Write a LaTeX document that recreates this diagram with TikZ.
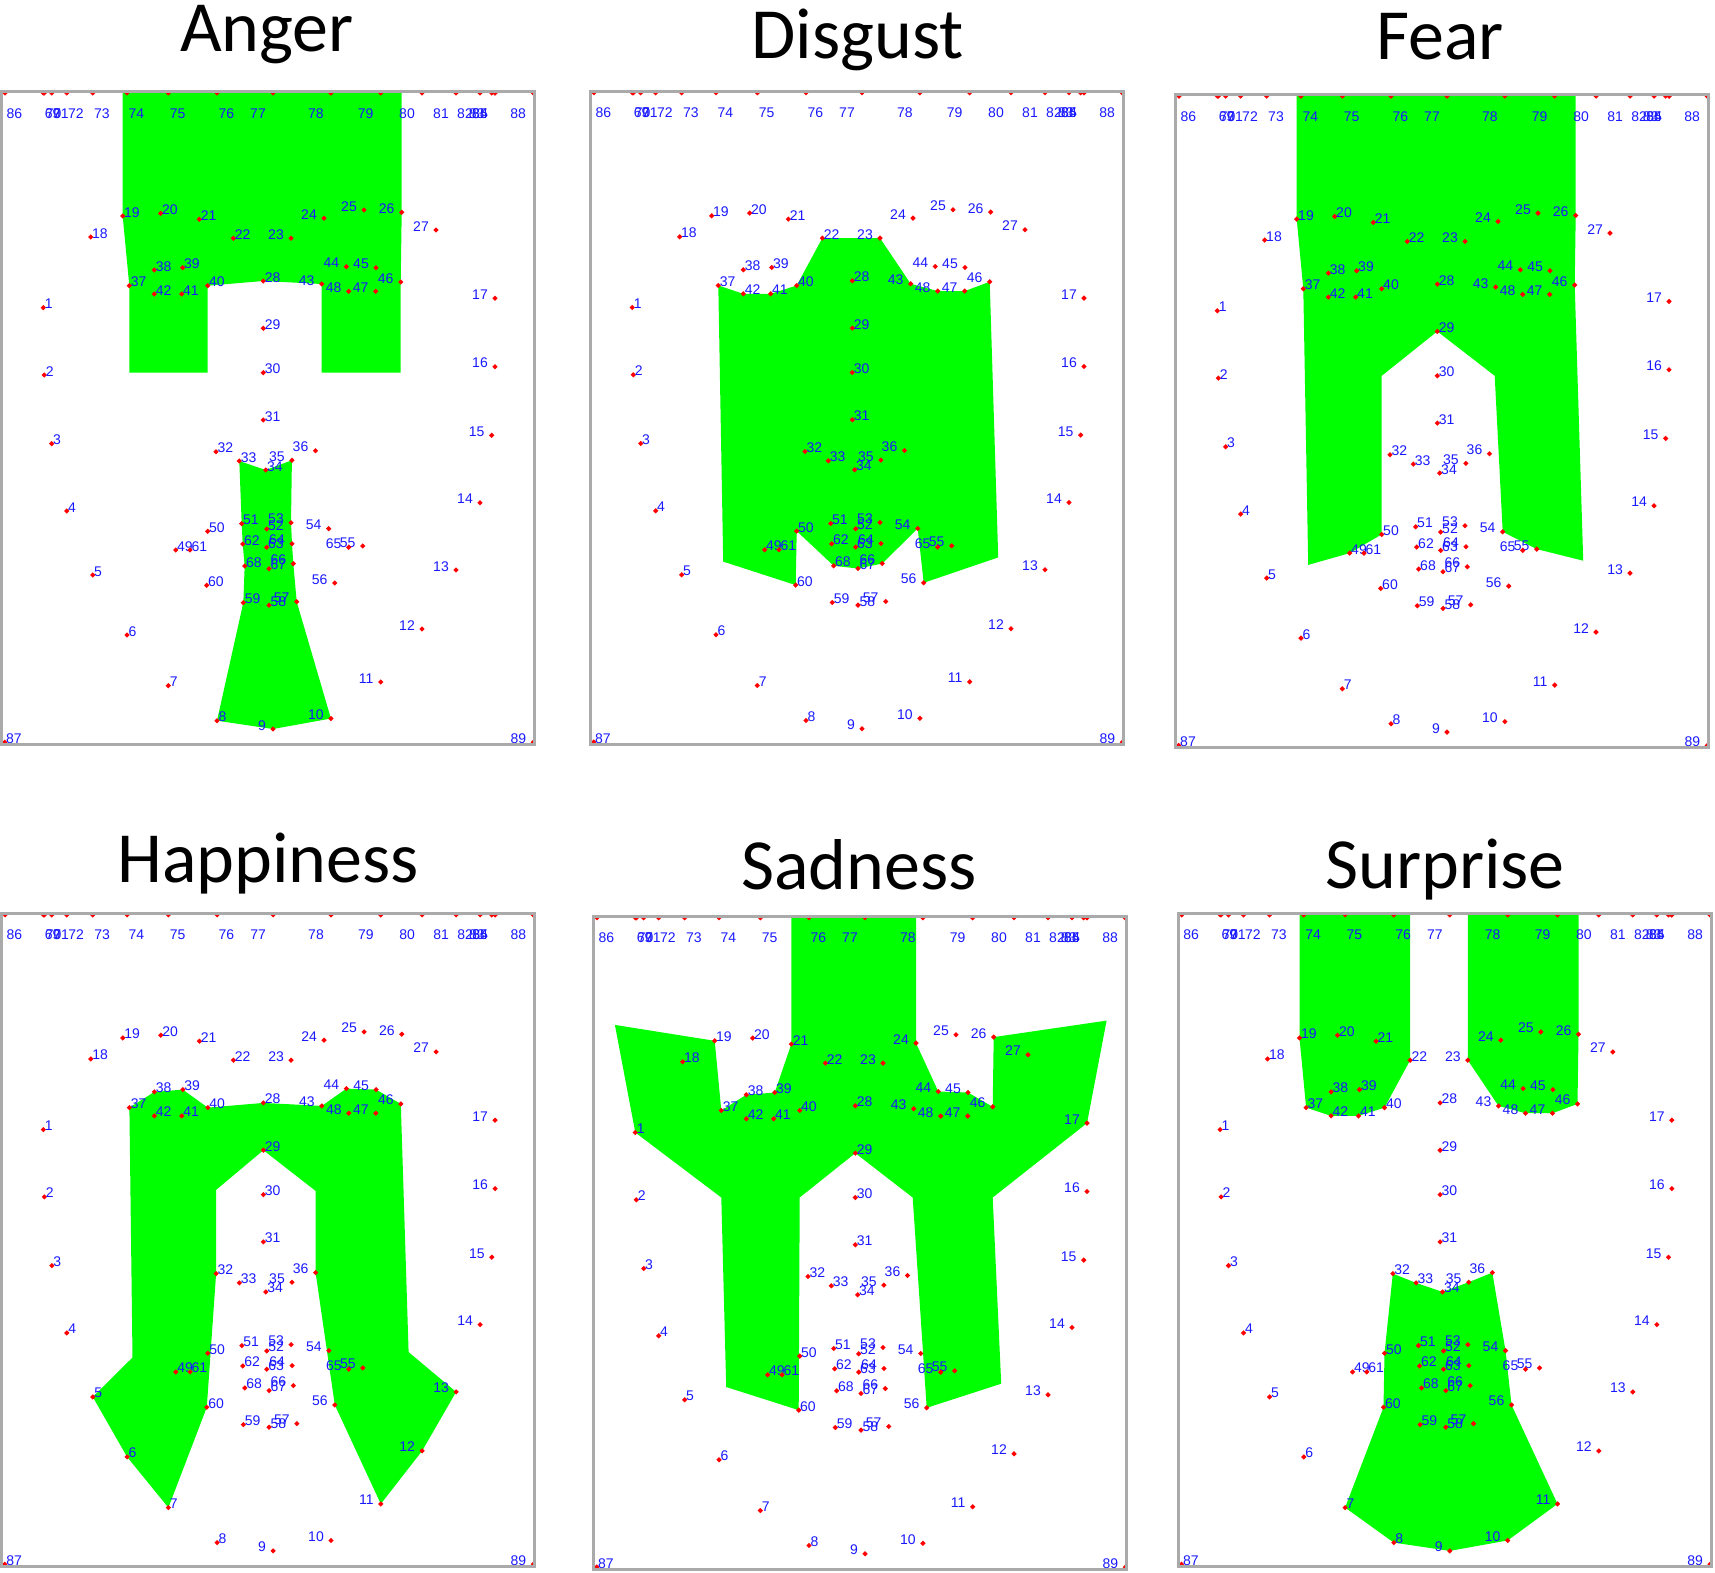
\documentclass[tikz,border=0pt]{standalone}
\usepackage{fontspec}
\setmainfont{Carlito}
\newfontfamily\markfont{Liberation Sans}
\usetikzlibrary{shapes.geometric}
\pgfdeclarelayer{arealayer}
\pgfsetlayers{arealayer,main}

\definecolor{markred}{RGB}{255,0,0}
\definecolor{markblue}{RGB}{25,25,255}
\definecolor{areagreen}{RGB}{0,255,0}
\definecolor{framegray}{RGB}{170,170,170}

\tikzset{
  lmk/.style={diamond, fill=markred, inner sep=0pt, minimum size=5.5pt},
  labr/.style={anchor=base west, xshift=1.3pt, yshift=-1pt, inner sep=0pt,
    text=markblue, font=\markfont\fontsize{14}{14}\selectfont},
  labl/.style={labr, anchor=base east, xshift=-8.3pt},
  area/.style={fill=areagreen},
  frame/.style={draw=framegray, line width=2.8pt},
  title/.style={anchor=base, inner sep=0pt, font=\fontsize{72}{72}\selectfont}
}

% landmarks of one panel, in panel pixels
\newcommand\facemarks{%
  \foreach \n/\x/\y in {1/41.6/215.7, 2/42.6/283, 3/50/351.7, 4/65/419,
      5/91/483, 6/125.3/543, 7/166.6/593.7, 8/215.3/628.7, 9/271.3/637,
      10/329.2/626.5, 11/379/590, 12/420.3/537, 13/454.3/478, 14/478.3/410.7,
      15/490/343.3, 16/493.3/274.7, 17/493.3/206.3, 18/89/145, 19/121/124,
      20/159/121.3, 21/197.6/127.3, 22/231.6/146.3, 23/289.3/146.3,
      24/322.3/126.3, 25/362.3/118, 26/400/120.3, 27/434.3/138,
      28/261.6/189, 29/261.6/236.3, 30/261.6/280.7, 31/261.6/328,
      32/214.3/359.7, 33/237.6/369, 34/264/378, 35/290.2/368.3, 36/313.8/358.7,
      37/127.6/193.7, 38/152.6/178, 39/181/175.7, 40/206/193.7, 41/180/202,
      42/152.6/202, 43/320/192, 44/344.6/174.7, 45/374.3/175.7, 46/399/190,
      47/374/199.3, 48/347/199.3, 49/174/458, 50/206/439.3, 51/240/431.7,
      52/265/437, 53/289.3/430.7, 54/327/436.7, 55/361/454, 56/333/491,
      57/295/509.7, 58/267.3/513.3, 59/241.6/510.7, 60/205/493.3,
      61/188.3/458, 62/241/452, 63/265/455.3, 64/290.3/451.7, 65/347/455.3,
      66/291.6/471.7, 67/267.3/476.7, 68/243/474}{
    \coordinate (\n) at (\x,\y);
    \node[lmk] (m\n) at (\n) {};
    \ifdim\x pt>270pt
      \node[labl] (t\n) at (\n) {\n};
    \else
      \node[labr] (t\n) at (\n) {\n};
    \fi
  }
  % corners
  \coordinate (86) at (3.3,1);
  \coordinate (88) at (531.5,1);
  \coordinate (87) at (3,650.3);
  \coordinate (89) at (531.6,650.3);
  \node[lmk] (m86) at (86) {};
  \node[lmk] (m88) at (88) {};
  \node[lmk] (m87) at (87) {};
  \node[lmk] (m89) at (89) {};
  \node[labr, yshift=-24pt] (t86) at (86) {86};
  \node[labl, yshift=-24pt] (t88) at (88) {88};
  \node[labr] (t87) at (87) {87};
  \node[labl] (t89) at (89) {89};
  % contour projected on the top edge
  \foreach \k in {1,...,17}{
    \pgfmathtruncatemacro\n{68+\k}
    \coordinate (\n) at (\k |- 86);
    \node[lmk] (m\n) at (\n) {};
    \ifnum\k>8
      \node[labl, yshift=-24pt] (t\n) at (\n) {\n};
    \else
      \node[labr, yshift=-24pt] (t\n) at (\n) {\n};
    \fi
  }
  \draw[frame] (-0.3,-0.3) rectangle (532.8,652.7);
}

\begin{document}
\begin{tikzpicture}[x=1pt, y=-1pt]
\useasboundingbox (0,0) rectangle (1715,1572);

% Anger
\begin{scope}[shift={(1.7,92)}, name prefix=an-]
  \facemarks
  \begin{pgfonlayer}{arealayer}
    \fill[area] (19 |- 86) -- (19) -- (37) -- (37 |- 30) -- (40 |- 30) -- (40)
      -- (28) -- (43) -- (43 |- 30) -- (46 |- 30) -- (46) -- (26) -- (26 |- 88) -- cycle;
    \fill[area] (33) -- (34) -- (35) -- (53) -- (64) -- (66) -- (57) -- (10)
      -- (9) -- (8) -- (59) -- (68) -- (62) -- (51) -- cycle;
  \end{pgfonlayer}
\end{scope}
\node[title] (an-title) at (267,51.4) {Anger};

% Disgust
\begin{scope}[shift={(590.7,91.8)}, name prefix=di-]
  \facemarks
  \begin{pgfonlayer}{arealayer}
    \fill[area] (22) -- (23) -- (43) -- (48) -- (47) -- (46) -- (407.5,465.6)
      -- (56) -- (54) -- (66) -- (67) -- (68) -- (50) -- (60) -- (132.5,469.8)
      -- (37) -- (42) -- (41) -- (40) -- cycle;
  \end{pgfonlayer}
\end{scope}
\node[title] (di-title) at (857.5,58) {Disgust};

% Fear
\begin{scope}[shift={(1175.7,95.1)}, name prefix=fe-]
  \facemarks
  \begin{pgfonlayer}{arealayer}
    \fill[area] (19 |- 86) -- (19) -- (37) -- (132.5,469.8) -- (49) -- (50)
      -- (50 |- 30) -- (29) -- (319,280.7) -- (54) -- (55) -- (407.5,465.6)
      -- (46) -- (26) -- (26 |- 88) -- cycle;
  \end{pgfonlayer}
\end{scope}
\node[title] (fe-title) at (1440,59) {Fear};

% Happiness
\begin{scope}[shift={(1.8,913.9)}, name prefix=ha-]
  \facemarks
  \begin{pgfonlayer}{arealayer}
    \fill[area] (37) -- (38) -- (39) -- (40) -- (28) -- (43) -- (44) -- (45)
      -- (46) -- (406.8,438.2) -- (13) -- (12) -- (11) -- (56) -- (36)
      -- (313.8,277) -- (29) -- (214.3,276) -- (32) -- (60) -- (7) -- (6)
      -- (5) -- (130.7,443.6) -- cycle;
  \end{pgfonlayer}
\end{scope}
\node[title] (ha-title) at (268,882.7) {Happiness};

% Sadness
\begin{scope}[shift={(593.7,916.8)}, name prefix=sa-]
  \facemarks
  \begin{pgfonlayer}{arealayer}
    \fill[area] (21 |- 86) -- (21) -- (39) -- (38) -- (37) -- (19) -- (21.2,108.1)
      -- (1) -- (37 |- 30) -- (132.5,470.2) -- (60) -- (40 |- 30) -- (29)
      -- (319,280.7) -- (56) -- (407.5,466.9) -- (46 |- 30) -- (17)
      -- (512.9,103.8) -- (26) -- (46) -- (45) -- (44) -- (24) -- (24 |- 88) -- cycle;
  \end{pgfonlayer}
\end{scope}
\node[title] (sa-title) at (859,889) {Sadness};

% Surprise
\begin{scope}[shift={(1178.5,913.9)}, name prefix=su-]
  \facemarks
  \begin{pgfonlayer}{arealayer}
    \fill[area] (19 |- 86) -- (19) -- (37) -- (42) -- (41) -- (40) -- (22)
      -- (22 |- 86) -- cycle;
    \fill[area] (23 |- 88) -- (23) -- (43) -- (48) -- (47) -- (46) -- (26)
      -- (26 |- 88) -- cycle;
    \fill[area] (32) -- (33) -- (34) -- (35) -- (36) -- (54) -- (56) -- (11)
      -- (10) -- (9) -- (8) -- (7) -- (60) -- (50) -- cycle;
  \end{pgfonlayer}
\end{scope}
\node[title] (su-title) at (1445,888) {Surprise};

\end{tikzpicture}
\end{document}
